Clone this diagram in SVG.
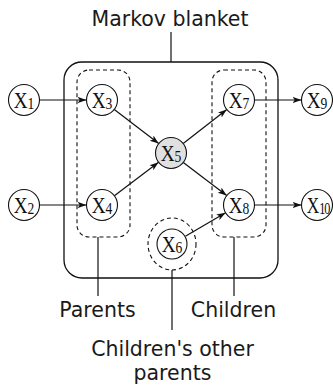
<svg xmlns="http://www.w3.org/2000/svg" width="333" height="385" viewBox="0 0 333 385">
  <style>
    .frame { fill: none; stroke: #111; stroke-width: 1.3; }
    .dash { fill: none; stroke: #111; stroke-width: 1.1; stroke-dasharray: 4 3; }
    .node circle { fill: #fff; stroke: #111; stroke-width: 1.1; }
    .node.obs circle { fill: #e0e0e0; }
    .lbl { font-family: "Liberation Serif", "DejaVu Serif", serif; font-size: 24px; fill: #111; text-anchor: middle; }
    .sub { font-size: 17px; }
    .edge { stroke: #111; stroke-width: 1.2; fill: none; marker-end: url(#arrow); }
    .lead { stroke: #111; stroke-width: 1.2; fill: none; }
    .cap { font-family: "DejaVu Sans", sans-serif; font-size: 20.5px; fill: #1a1a1a; text-anchor: middle; }
  </style>
  <defs>
    <marker id="arrow" markerWidth="10" markerHeight="8" refX="9" refY="4" orient="auto" markerUnits="userSpaceOnUse">
      <path d="M0,0.8 L9,4 L0,7.2 L2.2,4 z" fill="#111"/>
    </marker>
  </defs>

  <!-- blanket outline and group outlines -->
  <g id="blanket">
    <rect class="frame" x="64" y="62" width="214" height="216" rx="18" ry="18"/>
  </g>
  <g id="parents-group">
    <rect class="dash" x="77" y="70" width="53" height="167" rx="12" ry="12"/>
  </g>
  <g id="children-group">
    <rect class="dash" x="212" y="70" width="54" height="167" rx="12" ry="12"/>
  </g>
  <g id="coparents-group">
    <ellipse class="dash" cx="172" cy="244" rx="24" ry="26"/>
  </g>

  <!-- connectors -->
  <g id="edges">
    <line class="edge" x1="39.5" y1="100" x2="86.5" y2="100"/>
    <line class="edge" x1="39.5" y1="205" x2="86.5" y2="205"/>
    <line class="edge" x1="114.3" y1="109.4" x2="158.7" y2="143.6"/>
    <line class="edge" x1="114.4" y1="195.7" x2="158.6" y2="162.3"/>
    <line class="edge" x1="183.2" y1="143.5" x2="226.8" y2="109.5"/>
    <line class="edge" x1="183.3" y1="162.4" x2="226.7" y2="195.6"/>
    <line class="edge" x1="185.4" y1="236.2" x2="225.6" y2="212.8"/>
    <line class="edge" x1="254.5" y1="100" x2="301.5" y2="100"/>
    <line class="edge" x1="254.5" y1="205" x2="301.5" y2="205"/>
  </g>

  <!-- callout leaders -->
  <g id="leaders">
    <line class="lead" x1="171" y1="32" x2="171" y2="62"/>
    <line class="lead" x1="98" y1="237" x2="98" y2="296"/>
    <line class="lead" x1="234" y1="237" x2="234" y2="296"/>
    <line class="lead" x1="172" y1="270" x2="172" y2="330"/>
  </g>

  <!-- nodes -->
  <g id="x1" class="node"><circle cx="24" cy="100" r="15.5"/><text class="lbl" x="24" y="108" transform="translate(24 0) scale(0.8 1) translate(-24 0)">X<tspan class="sub" dy="1.5">1</tspan></text></g>
  <g id="x2" class="node"><circle cx="24" cy="205" r="15.5"/><text class="lbl" x="24" y="213" transform="translate(24 0) scale(0.8 1) translate(-24 0)">X<tspan class="sub" dy="1.5">2</tspan></text></g>
  <g id="x3" class="node"><circle cx="102" cy="100" r="15.5"/><text class="lbl" x="102" y="108" transform="translate(102 0) scale(0.8 1) translate(-102 0)">X<tspan class="sub" dy="1.5">3</tspan></text></g>
  <g id="x4" class="node"><circle cx="102" cy="205" r="15.5"/><text class="lbl" x="102" y="213" transform="translate(102 0) scale(0.8 1) translate(-102 0)">X<tspan class="sub" dy="1.5">4</tspan></text></g>
  <g id="x5" class="node obs"><circle cx="171" cy="153" r="15.5"/><text class="lbl" x="171" y="161" transform="translate(171 0) scale(0.8 1) translate(-171 0)">X<tspan class="sub" dy="1.5">5</tspan></text></g>
  <g id="x6" class="node"><circle cx="172" cy="244" r="15"/><text class="lbl" x="172" y="252" transform="translate(172 0) scale(0.8 1) translate(-172 0)">X<tspan class="sub" dy="1.5">6</tspan></text></g>
  <g id="x7" class="node"><circle cx="239" cy="100" r="15.5"/><text class="lbl" x="239" y="108" transform="translate(239 0) scale(0.8 1) translate(-239 0)">X<tspan class="sub" dy="1.5">7</tspan></text></g>
  <g id="x8" class="node"><circle cx="239" cy="205" r="15.5"/><text class="lbl" x="239" y="213" transform="translate(239 0) scale(0.8 1) translate(-239 0)">X<tspan class="sub" dy="1.5">8</tspan></text></g>
  <g id="x9" class="node"><circle cx="317" cy="100" r="15.5"/><text class="lbl" x="317" y="108" transform="translate(317 0) scale(0.8 1) translate(-317 0)">X<tspan class="sub" dy="1.5">9</tspan></text></g>
  <g id="x10" class="node"><circle cx="317" cy="205" r="15.5"/><text class="lbl" x="318" y="213" transform="translate(318 0) scale(0.72 1) translate(-318 0)">X<tspan class="sub" dy="1.5" letter-spacing="-1.5">10</tspan></text></g>

  <!-- captions -->
  <g id="captions">
    <text class="cap" x="170" y="26">Markov blanket</text>
    <text class="cap" x="97.5" y="317">Parents</text>
    <text class="cap" x="233.5" y="317">Children</text>
    <text class="cap" x="172.5" y="356">Children's other</text>
    <text class="cap" x="172.5" y="380">parents</text>
  </g>
</svg>
